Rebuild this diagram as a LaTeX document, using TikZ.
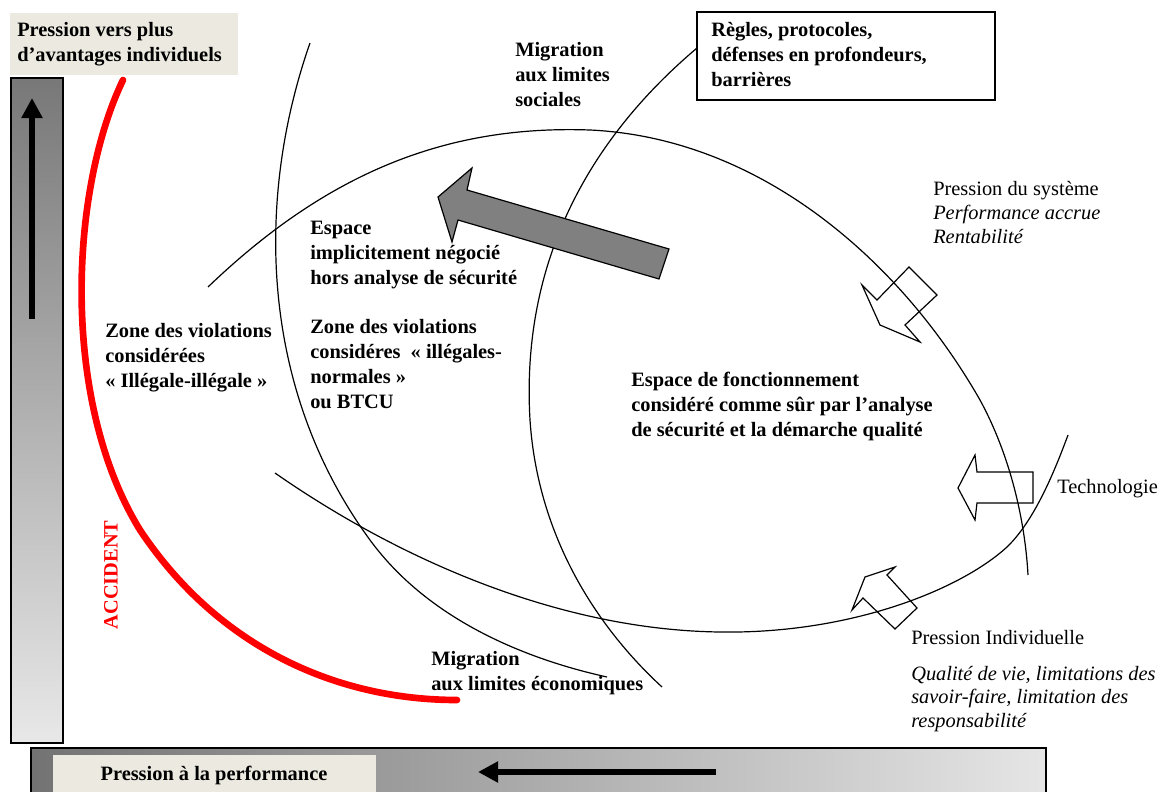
\documentclass[tikz,border=0pt]{standalone}
\usepackage{fontspec}
\setmainfont{Liberation Serif}
\usetikzlibrary{arrows.meta}
\definecolor{beige}{HTML}{ECEAE0}
\definecolor{rougeAcc}{HTML}{FF0000}

\begin{document}
\begin{tikzpicture}[x=0.75pt, y=-0.75pt,
        txt/.style={anchor=base west, align=left, inner sep=0pt, font=\bfseries\fontsize{15.3}{18.75}\selectfont},
        txtn/.style={anchor=base west, align=left, inner sep=0pt, font=\fontsize{15.3}{18}\selectfont},
        courbe/.style={line width=0.9pt},
        contour/.style={draw, line width=0.9pt, line join=miter},
        fleche/.style={-{Triangle[length=15pt, width=15pt]}, line width=5pt}
    ]
        \useasboundingbox (0,0) rectangle (1167,792);
        \clip (0,0) rectangle (1167,792);

        % Barres de pression
        \fill[beige] (10,13) rectangle (238,75);
        \shade[top color=black!53, bottom color=black!9] (11,78) rectangle (63,743);
        \draw[line width=1.2pt] (11,78) rectangle (63,743);
        \shade[left color=black!55, right color=black!10] (31,748) rectangle (1046,800);
        \draw[line width=1.2pt] (31,748) rectangle (1046,800);
        \fill[beige] (53,755) rectangle (376,800);

        \coordinate (basG) at (32,319);
        \coordinate (hautG) at (32,98);
        \coordinate (droiteB) at (716,772);
        \coordinate (gaucheB) at (478,772);
        \draw[fleche] (basG) -- (hautG);
        \draw[fleche, line width=4.5pt] (droiteB) -- (gaucheB);

        % Courbes des limites
        \draw[courbe] (208,287) .. controls (330,170) and (450,125) .. (590,130)
            .. controls (760,138) and (900,260) .. (980,400)
            .. controls (1010,455) and (1025,520) .. (1028,575);
        \draw[courbe] (275,473) .. controls (400,560) and (560,630) .. (720,632)
            .. controls (850,634) and (960,590) .. (1007,547)
            .. controls (1035,520) and (1055,470) .. (1068,435);
        \draw[courbe] (310,43) .. controls (255,200) and (260,390) .. (370,540)
            .. controls (430,622) and (530,660) .. (607,677);
        \draw[courbe] (697,48) .. controls (600,130) and (520,250) .. (530,420)
            .. controls (538,540) and (600,630) .. (662,687);

        % Fleches de pression
        \draw[contour] (880,325) -- (862,285) -- (877,300) -- (909,267) -- (937,295) -- (905,325) -- (920,342) -- cycle;
        \draw[contour] (958,488) -- (975,455) -- (977,472) -- (1033,472) -- (1033,503) -- (977,503) -- (975,520) -- cycle;
        \draw[contour] (865,577) -- (895,567) -- (887,575) -- (917,608) -- (895,629) -- (863,598) -- (852,610) -- cycle;
        \draw[contour, fill=black!50] (438,197) -- (472,168) -- (467,190) -- (669,249) -- (659,279) -- (458,220) -- (452,242) -- cycle;

        % Frontiere accident
        \draw[rougeAcc, line width=5pt, line cap=round] (123,80) .. controls (70,190) and (60,400) .. (140,530)
            .. controls (220,650) and (340,700) .. (457,700);

        \draw[line width=1pt, fill=white] (697,12) rectangle (995,100);

        % Textes (ancre sur la ligne de base de la derniere ligne)
        \node[txt] (avantages) at (17,62) {Pression vers plus\\d’avantages individuels};
        \node[txt, anchor=base] (performance) at (214,780) {Pression à la performance};
        \node[txt] (regles) at (711,87) {Règles, protocoles,\\défenses en profondeurs,\\barrières};
        \node[txt] (migrSociale) at (515,107) {Migration\\aux limites\\sociales};
        \node[txt] (espaceNeg) at (310,284) {Espace\\implicitement négocié\\hors analyse de sécurité};
        \node[txt] (zoneIllegale) at (105,387) {Zone des violations\\considérées\\« Illégale-illégale »};
        \node[txt] (zoneBTCU) at (310,408) {Zone des violations\\considéres~ « illégales-\\normales »\\ou BTCU};
        \node[txt] (espaceSur) at (631,436) {Espace de fonctionnement\\considéré comme sûr par l’analyse\\de sécurité et la démarche qualité};
        \node[txt] (migrEco) at (431,690) {Migration\\aux limites économiques};
        \node[txtn] (pSysteme) at (933,243) {Pression du système\\\textit{Performance accrue}\\\textit{Rentabilité}};
        \node[txtn] (technologie) at (1057,493) {Technologie};
        \node[txtn] (pIndividuelle) at (911,644) {Pression Individuelle};
        \node[txtn, font=\itshape\fontsize{15.3}{17.6}\selectfont] (pIndivDetail) at (911,727) {Qualité de vie, limitations des\\savoir-faire, limitation des\\responsabilité};
        \node[txt, anchor=center, rotate=90, text=rougeAcc] (accident) at (111,575) {ACCIDENT};

    \end{tikzpicture}
\end{document}
